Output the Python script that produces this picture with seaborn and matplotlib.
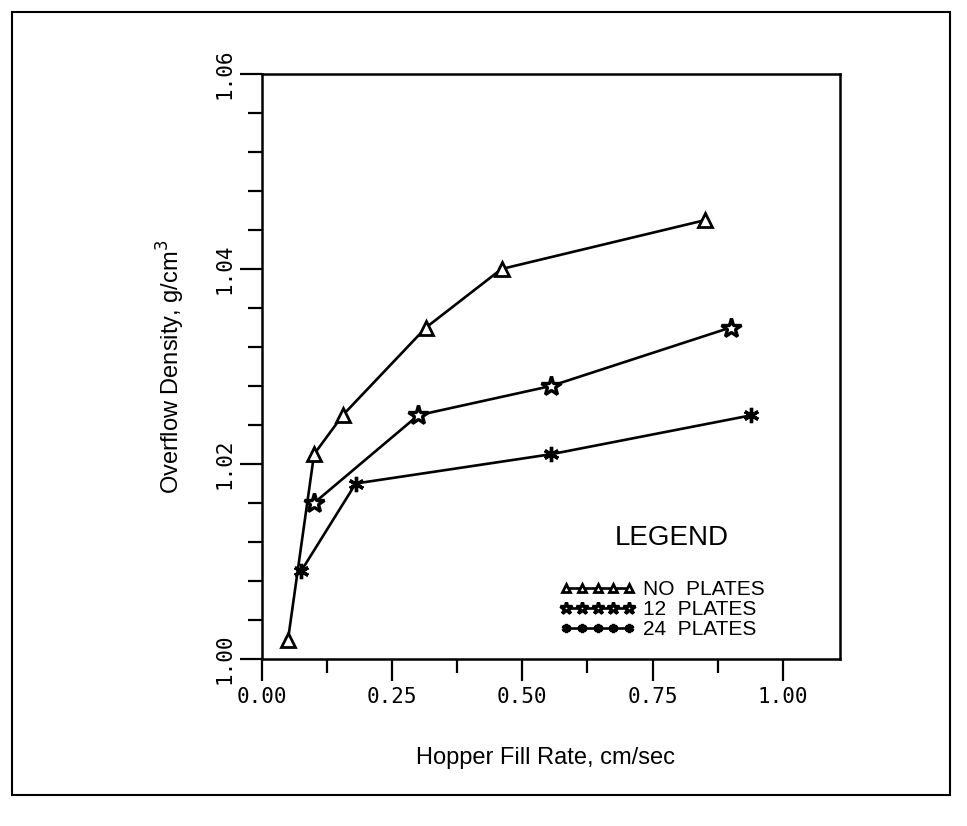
import matplotlib
matplotlib.use('Agg')
import matplotlib.pyplot as plt
import seaborn as sns
from matplotlib.ticker import MultipleLocator, FormatStrFormatter
from matplotlib.patches import Rectangle

# data
no_plates_x = [0.05, 0.10, 0.155, 0.315, 0.46, 0.85]
no_plates_y = [1.002, 1.021, 1.025, 1.034, 1.040, 1.045]
plates12_x = [0.10, 0.30, 0.555, 0.90]
plates12_y = [1.016, 1.025, 1.028, 1.034]
plates24_x = [0.075, 0.18, 0.555, 0.94]
plates24_y = [1.009, 1.018, 1.021, 1.025]
series_labels = ['NO  PLATES', '12  PLATES', '24  PLATES']

sns.set_theme(style='white')
plt.rcParams['font.family'] = ['Liberation Sans', 'DejaVu Sans']
plt.rcParams.update({'text.color': 'black', 'axes.labelcolor': 'black',
                     'xtick.color': 'black', 'ytick.color': 'black'})

fig = plt.figure(figsize=(9.67, 8.26), dpi=100)
ax = fig.add_axes([262 / 967, 167 / 826, 578 / 967, 585 / 826])

line_kw = dict(color='black', lw=1.9, sort=False, ax=ax)
sns.lineplot(x=no_plates_x, y=no_plates_y, marker='^', markersize=10.5,
             markerfacecolor='white', markeredgecolor='black', markeredgewidth=2,
             label=series_labels[0], **line_kw)
sns.lineplot(x=plates12_x, y=plates12_y, marker='*', markersize=15,
             markerfacecolor='white', markeredgecolor='black', markeredgewidth=2.4,
             label=series_labels[1], **line_kw)
sns.lineplot(x=plates24_x, y=plates24_y, marker=(6, 2, 0), markersize=11,
             markeredgecolor='black', markeredgewidth=2.4,
             label=series_labels[2], **line_kw)

ax.set_xlim(0, 1.11)
ax.set_ylim(1.00, 1.06)
ax.xaxis.set_major_locator(MultipleLocator(0.25))
ax.xaxis.set_minor_locator(MultipleLocator(0.125))
ax.yaxis.set_major_locator(MultipleLocator(0.02))
ax.yaxis.set_minor_locator(MultipleLocator(0.004))
ax.xaxis.set_major_formatter(FormatStrFormatter('%.2f'))
ax.yaxis.set_major_formatter(FormatStrFormatter('%.2f'))
# seaborn's white style switches ticks off; turn them back on
ax.tick_params(which='both', bottom=True, left=True, top=False, right=False)
ax.tick_params(which='major', direction='out', length=16, width=1.6, color='black', pad=4)
ax.tick_params(which='minor', direction='out', length=10, width=1.6, color='black')
ax.tick_params(axis='y', which='major', labelrotation=90)
for lab in ax.get_xticklabels() + ax.get_yticklabels():
    lab.set_family('DejaVu Sans Mono')
    lab.set_fontsize(15)
for lab in ax.get_yticklabels():
    lab.set_va('center')

for sp in ax.spines.values():
    sp.set_visible(True)
    sp.set_color('black')
    sp.set_linewidth(1.8)

ax.set_xlabel('Hopper Fill Rate, cm/sec', fontsize=17)
ax.set_ylabel('Overflow Density, g/cm$^3$', fontsize=17)
ax.xaxis.set_label_coords(0.49, -0.15)
ax.yaxis.set_label_coords(-0.13, 0.5)

handles = ax.get_lines()
ax.legend(handles=handles, labels=series_labels, loc='upper left',
          bbox_to_anchor=(560 / 967, 1 - 580 / 826), bbox_transform=fig.transFigure,
          frameon=False, fontsize=15, numpoints=5, markerscale=0.6,
          handlelength=3.6, handletextpad=0.4, labelspacing=0.05,
          borderpad=0, borderaxespad=0)
fig.text(672 / 967, 1 - 538 / 826, 'LEGEND', ha='center', va='center', fontsize=20)

fig.patches.append(Rectangle((12 / 967, 1 - 795 / 826), 938 / 967, 783 / 826,
                             transform=fig.transFigure, fill=False, lw=1.5, ec='black'))

fig.savefig('out.png', dpi=100)
